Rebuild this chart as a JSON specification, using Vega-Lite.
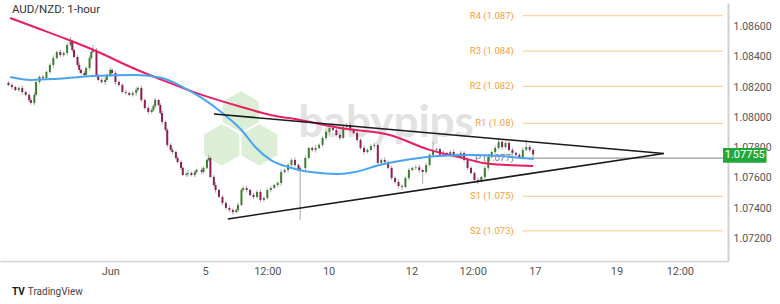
{
"$schema":"https://vega.github.io/schema/vega-lite/v6.json",
"width":728,"height":258,"autosize":{"type":"none"},
"padding":{"left":0,"top":3,"right":52,"bottom":43},
"background":"white",
"config":{"view":{"stroke":null},"font":"Roboto","axis":{"title":null,"grid":false,"ticks":false,"labelColor":"#555555","labelFontSize":11,"labelFlush":false,"labelOverlap":false}},
"resolve":{"axis":{"x":"independent","y":"independent"}},
"datasets":{
"candles":[
{"t":2,"o":1.08230,"h":1.08240,"l":1.08205,"c":1.08215},
{"t":4,"o":1.08215,"h":1.08230,"l":1.08186,"c":1.08201},
{"t":6,"o":1.08201,"h":1.08209,"l":1.08174,"c":1.08182},
{"t":8,"o":1.08182,"h":1.08207,"l":1.08170,"c":1.08195},
{"t":10,"o":1.08195,"h":1.08213,"l":1.08150,"c":1.08168},
{"t":12,"o":1.08168,"h":1.08177,"l":1.08140,"c":1.08149},
{"t":14,"o":1.08149,"h":1.08163,"l":1.08101,"c":1.08115},
{"t":15,"o":1.08115,"h":1.08126,"l":1.08085,"c":1.08096},
{"t":17,"o":1.08096,"h":1.08165,"l":1.08080,"c":1.08149},
{"t":18,"o":1.08149,"h":1.08244,"l":1.08139,"c":1.08234},
{"t":20,"o":1.08234,"h":1.08278,"l":1.08224,"c":1.08268},
{"t":22,"o":1.08268,"h":1.08283,"l":1.08246,"c":1.08261},
{"t":24,"o":1.08261,"h":1.08309,"l":1.08253,"c":1.08301},
{"t":26,"o":1.08301,"h":1.08359,"l":1.08289,"c":1.08347},
{"t":28,"o":1.08347,"h":1.08411,"l":1.08329,"c":1.08393},
{"t":30,"o":1.08393,"h":1.08442,"l":1.08384,"c":1.08433},
{"t":32,"o":1.08433,"h":1.08447,"l":1.08399,"c":1.08413},
{"t":34,"o":1.08413,"h":1.08437,"l":1.08402,"c":1.08426},
{"t":36,"o":1.08426,"h":1.08495,"l":1.08410,"c":1.08479},
{"t":38,"o":1.08479,"h":1.08532,"l":1.08469,"c":1.08499},
{"t":39,"o":1.08499,"h":1.08514,"l":1.08431,"c":1.08446},
{"t":40,"o":1.08446,"h":1.08454,"l":1.08392,"c":1.08400},
{"t":42,"o":1.08400,"h":1.08412,"l":1.08335,"c":1.08347},
{"t":43,"o":1.08347,"h":1.08365,"l":1.08296,"c":1.08314},
{"t":44,"o":1.08314,"h":1.08323,"l":1.08285,"c":1.08294},
{"t":46,"o":1.08294,"h":1.08308,"l":1.08267,"c":1.08281},
{"t":47,"o":1.08281,"h":1.08338,"l":1.08270,"c":1.08327},
{"t":49,"o":1.08327,"h":1.08409,"l":1.08311,"c":1.08393},
{"t":50,"o":1.08393,"h":1.08443,"l":1.08383,"c":1.08433},
{"t":51,"o":1.08433,"h":1.08479,"l":1.08423,"c":1.08446},
{"t":53,"o":1.08446,"h":1.08461,"l":1.08266,"c":1.08281},
{"t":54,"o":1.08281,"h":1.08289,"l":1.08240,"c":1.08248},
{"t":56,"o":1.08248,"h":1.08260,"l":1.08222,"c":1.08234},
{"t":58,"o":1.08234,"h":1.08266,"l":1.08216,"c":1.08248},
{"t":59,"o":1.08248,"h":1.08290,"l":1.08239,"c":1.08281},
{"t":61,"o":1.08281,"h":1.08328,"l":1.08267,"c":1.08314},
{"t":62,"o":1.08314,"h":1.08325,"l":1.08283,"c":1.08294},
{"t":64,"o":1.08294,"h":1.08310,"l":1.08218,"c":1.08234},
{"t":66,"o":1.08234,"h":1.08244,"l":1.08205,"c":1.08215},
{"t":68,"o":1.08215,"h":1.08225,"l":1.08158,"c":1.08168},
{"t":70,"o":1.08168,"h":1.08183,"l":1.08147,"c":1.08162},
{"t":72,"o":1.08162,"h":1.08170,"l":1.08141,"c":1.08149},
{"t":74,"o":1.08149,"h":1.08174,"l":1.08137,"c":1.08162},
{"t":76,"o":1.08162,"h":1.08200,"l":1.08144,"c":1.08182},
{"t":77,"o":1.08182,"h":1.08204,"l":1.08173,"c":1.08195},
{"t":79,"o":1.08195,"h":1.08209,"l":1.08101,"c":1.08115},
{"t":81,"o":1.08115,"h":1.08126,"l":1.08051,"c":1.08062},
{"t":83,"o":1.08062,"h":1.08078,"l":1.08020,"c":1.08036},
{"t":85,"o":1.08036,"h":1.08059,"l":1.08026,"c":1.08049},
{"t":86,"o":1.08049,"h":1.08086,"l":1.08039,"c":1.08076},
{"t":87,"o":1.08076,"h":1.08130,"l":1.08061,"c":1.08115},
{"t":89,"o":1.08115,"h":1.08123,"l":1.08074,"c":1.08082},
{"t":90,"o":1.08082,"h":1.08094,"l":1.08017,"c":1.08029},
{"t":91,"o":1.08029,"h":1.08047,"l":1.07952,"c":1.07970},
{"t":93,"o":1.07970,"h":1.07979,"l":1.07908,"c":1.07917},
{"t":94,"o":1.07917,"h":1.07931,"l":1.07804,"c":1.07818},
{"t":96,"o":1.07818,"h":1.07829,"l":1.07774,"c":1.07785},
{"t":97,"o":1.07785,"h":1.07801,"l":1.07755,"c":1.07771},
{"t":99,"o":1.07771,"h":1.07781,"l":1.07722,"c":1.07732},
{"t":100,"o":1.07732,"h":1.07742,"l":1.07695,"c":1.07705},
{"t":102,"o":1.07705,"h":1.07720,"l":1.07651,"c":1.07666},
{"t":103,"o":1.07666,"h":1.07674,"l":1.07611,"c":1.07619},
{"t":105,"o":1.07619,"h":1.07638,"l":1.07607,"c":1.07626},
{"t":106,"o":1.07626,"h":1.07650,"l":1.07608,"c":1.07632},
{"t":108,"o":1.07632,"h":1.07641,"l":1.07610,"c":1.07619},
{"t":110,"o":1.07619,"h":1.07653,"l":1.07605,"c":1.07639},
{"t":111,"o":1.07639,"h":1.07663,"l":1.07628,"c":1.07652},
{"t":114,"o":1.07652,"h":1.07668,"l":1.07623,"c":1.07639},
{"t":115,"o":1.07639,"h":1.07676,"l":1.07629,"c":1.07666},
{"t":117,"o":1.07666,"h":1.07728,"l":1.07656,"c":1.07718},
{"t":118,"o":1.07718,"h":1.07752,"l":1.07708,"c":1.07732},
{"t":119,"o":1.07732,"h":1.07740,"l":1.07598,"c":1.07606},
{"t":121,"o":1.07606,"h":1.07618,"l":1.07541,"c":1.07553},
{"t":122,"o":1.07553,"h":1.07571,"l":1.07502,"c":1.07520},
{"t":124,"o":1.07520,"h":1.07529,"l":1.07465,"c":1.07474},
{"t":126,"o":1.07474,"h":1.07488,"l":1.07420,"c":1.07434},
{"t":128,"o":1.07434,"h":1.07445,"l":1.07390,"c":1.07401},
{"t":130,"o":1.07401,"h":1.07417,"l":1.07372,"c":1.07388},
{"t":132,"o":1.07388,"h":1.07398,"l":1.07355,"c":1.07374},
{"t":134,"o":1.07374,"h":1.07398,"l":1.07364,"c":1.07388},
{"t":135,"o":1.07388,"h":1.07436,"l":1.07373,"c":1.07421},
{"t":137,"o":1.07421,"h":1.07528,"l":1.07413,"c":1.07520},
{"t":138,"o":1.07520,"h":1.07545,"l":1.07508,"c":1.07533},
{"t":140,"o":1.07533,"h":1.07551,"l":1.07502,"c":1.07520},
{"t":142,"o":1.07520,"h":1.07529,"l":1.07478,"c":1.07487},
{"t":144,"o":1.07487,"h":1.07501,"l":1.07460,"c":1.07474},
{"t":146,"o":1.07474,"h":1.07518,"l":1.07463,"c":1.07507},
{"t":148,"o":1.07507,"h":1.07523,"l":1.07438,"c":1.07454},
{"t":150,"o":1.07454,"h":1.07477,"l":1.07444,"c":1.07467},
{"t":152,"o":1.07467,"h":1.07530,"l":1.07457,"c":1.07520},
{"t":154,"o":1.07520,"h":1.07548,"l":1.07505,"c":1.07533},
{"t":156,"o":1.07533,"h":1.07561,"l":1.07525,"c":1.07553},
{"t":158,"o":1.07553,"h":1.07578,"l":1.07541,"c":1.07566},
{"t":160,"o":1.07566,"h":1.07657,"l":1.07548,"c":1.07639},
{"t":162,"o":1.07639,"h":1.07661,"l":1.07630,"c":1.07652},
{"t":164,"o":1.07652,"h":1.07699,"l":1.07638,"c":1.07685},
{"t":166,"o":1.07685,"h":1.07729,"l":1.07674,"c":1.07718},
{"t":168,"o":1.07718,"h":1.07734,"l":1.07669,"c":1.07685},
{"t":170,"o":1.07685,"h":1.07695,"l":1.07642,"c":1.07652},
{"t":171,"o":1.07652,"h":1.07676,"l":1.07321,"c":1.07666},
{"t":174,"o":1.07666,"h":1.07747,"l":1.07651,"c":1.07732},
{"t":176,"o":1.07732,"h":1.07806,"l":1.07724,"c":1.07798},
{"t":178,"o":1.07798,"h":1.07810,"l":1.07773,"c":1.07785},
{"t":180,"o":1.07785,"h":1.07816,"l":1.07767,"c":1.07798},
{"t":182,"o":1.07798,"h":1.07827,"l":1.07789,"c":1.07818},
{"t":184,"o":1.07818,"h":1.07878,"l":1.07804,"c":1.07864},
{"t":186,"o":1.07864,"h":1.07915,"l":1.07853,"c":1.07904},
{"t":188,"o":1.07904,"h":1.07946,"l":1.07888,"c":1.07930},
{"t":190,"o":1.07930,"h":1.07963,"l":1.07907,"c":1.07917},
{"t":192,"o":1.07917,"h":1.07927,"l":1.07874,"c":1.07884},
{"t":194,"o":1.07884,"h":1.07899,"l":1.07849,"c":1.07864},
{"t":196,"o":1.07864,"h":1.07945,"l":1.07856,"c":1.07937},
{"t":198,"o":1.07937,"h":1.07962,"l":1.07925,"c":1.07950},
{"t":200,"o":1.07950,"h":1.07968,"l":1.07899,"c":1.07917},
{"t":202,"o":1.07917,"h":1.07926,"l":1.07888,"c":1.07897},
{"t":204,"o":1.07897,"h":1.07911,"l":1.07837,"c":1.07851},
{"t":206,"o":1.07851,"h":1.07862,"l":1.07787,"c":1.07798},
{"t":208,"o":1.07798,"h":1.07814,"l":1.07755,"c":1.07771},
{"t":210,"o":1.07771,"h":1.07795,"l":1.07761,"c":1.07785},
{"t":212,"o":1.07785,"h":1.07821,"l":1.07775,"c":1.07811},
{"t":214,"o":1.07811,"h":1.07833,"l":1.07796,"c":1.07818},
{"t":216,"o":1.07818,"h":1.07826,"l":1.07691,"c":1.07699},
{"t":218,"o":1.07699,"h":1.07730,"l":1.07687,"c":1.07718},
{"t":220,"o":1.07718,"h":1.07736,"l":1.07687,"c":1.07705},
{"t":222,"o":1.07705,"h":1.07714,"l":1.07657,"c":1.07666},
{"t":224,"o":1.07666,"h":1.07680,"l":1.07585,"c":1.07599},
{"t":226,"o":1.07599,"h":1.07610,"l":1.07562,"c":1.07573},
{"t":228,"o":1.07573,"h":1.07589,"l":1.07530,"c":1.07546},
{"t":230,"o":1.07546,"h":1.07556,"l":1.07520,"c":1.07540},
{"t":232,"o":1.07540,"h":1.07609,"l":1.07530,"c":1.07599},
{"t":234,"o":1.07599,"h":1.07667,"l":1.07584,"c":1.07652},
{"t":236,"o":1.07652,"h":1.07674,"l":1.07644,"c":1.07666},
{"t":238,"o":1.07666,"h":1.07682,"l":1.07654,"c":1.07670},
{"t":240,"o":1.07670,"h":1.07688,"l":1.07634,"c":1.07652},
{"t":242,"o":1.07652,"h":1.07661,"l":1.07560,"c":1.07639},
{"t":244,"o":1.07639,"h":1.07699,"l":1.07625,"c":1.07685},
{"t":246,"o":1.07685,"h":1.07763,"l":1.07674,"c":1.07752},
{"t":248,"o":1.07752,"h":1.07838,"l":1.07736,"c":1.07785},
{"t":250,"o":1.07785,"h":1.07800,"l":1.07775,"c":1.07790},
{"t":252,"o":1.07790,"h":1.07800,"l":1.07742,"c":1.07752},
{"t":254,"o":1.07752,"h":1.07780,"l":1.07737,"c":1.07765},
{"t":256,"o":1.07765,"h":1.07773,"l":1.07744,"c":1.07752},
{"t":258,"o":1.07752,"h":1.07783,"l":1.07740,"c":1.07771},
{"t":260,"o":1.07771,"h":1.07789,"l":1.07734,"c":1.07752},
{"t":262,"o":1.07752,"h":1.07761,"l":1.07729,"c":1.07738},
{"t":264,"o":1.07738,"h":1.07779,"l":1.07724,"c":1.07765},
{"t":266,"o":1.07765,"h":1.07776,"l":1.07707,"c":1.07718},
{"t":268,"o":1.07718,"h":1.07734,"l":1.07650,"c":1.07666},
{"t":270,"o":1.07666,"h":1.07676,"l":1.07622,"c":1.07632},
{"t":272,"o":1.07632,"h":1.07642,"l":1.07576,"c":1.07586},
{"t":274,"o":1.07586,"h":1.07601,"l":1.07560,"c":1.07579},
{"t":276,"o":1.07579,"h":1.07614,"l":1.07571,"c":1.07606},
{"t":278,"o":1.07606,"h":1.07678,"l":1.07594,"c":1.07666},
{"t":280,"o":1.07666,"h":1.07756,"l":1.07648,"c":1.07738},
{"t":282,"o":1.07738,"h":1.07780,"l":1.07729,"c":1.07771},
{"t":284,"o":1.07771,"h":1.07812,"l":1.07757,"c":1.07798},
{"t":286,"o":1.07798,"h":1.07864,"l":1.07787,"c":1.07838},
{"t":288,"o":1.07838,"h":1.07854,"l":1.07788,"c":1.07804},
{"t":290,"o":1.07804,"h":1.07841,"l":1.07794,"c":1.07831},
{"t":292,"o":1.07831,"h":1.07841,"l":1.07775,"c":1.07785},
{"t":294,"o":1.07785,"h":1.07800,"l":1.07750,"c":1.07765},
{"t":296,"o":1.07765,"h":1.07773,"l":1.07744,"c":1.07752},
{"t":298,"o":1.07752,"h":1.07764,"l":1.07726,"c":1.07738},
{"t":300,"o":1.07738,"h":1.07803,"l":1.07720,"c":1.07785},
{"t":302,"o":1.07785,"h":1.07851,"l":1.07776,"c":1.07804},
{"t":304,"o":1.07804,"h":1.07818,"l":1.07771,"c":1.07785},
{"t":306,"o":1.07785,"h":1.07796,"l":1.07718,"c":1.07755}
],
"ma":[
{"m":"ma200","t":3,"v":1.08658},{"m":"ma200","t":17,"v":1.08598},{"m":"ma200","t":37,"v":1.08512},{"m":"ma200","t":54,"v":1.08433},{"m":"ma200","t":74,"v":1.08327},{"m":"ma200","t":91,"v":1.08248},{"m":"ma200","t":114,"v":1.08149},{"m":"ma200","t":137,"v":1.08069},{"m":"ma200","t":154,"v":1.08016},{"m":"ma200","t":171,"v":1.07983},{"m":"ma200","t":194,"v":1.07930},{"m":"ma200","t":223,"v":1.07884},{"m":"ma200","t":246,"v":1.07785},{"m":"ma200","t":263,"v":1.07738},{"m":"ma200","t":277,"v":1.07699},{"m":"ma200","t":291,"v":1.07685},{"m":"ma200","t":306,"v":1.07679},
{"m":"ma100","t":3,"v":1.08268},{"m":"ma100","t":15,"v":1.08248},{"m":"ma100","t":29,"v":1.08254},{"m":"ma100","t":51,"v":1.08274},{"m":"ma100","t":76,"v":1.08281},{"m":"ma100","t":91,"v":1.08261},{"m":"ma100","t":103,"v":1.08201},{"m":"ma100","t":114,"v":1.08129},{"m":"ma100","t":126,"v":1.08029},{"m":"ma100","t":137,"v":1.07917},{"m":"ma100","t":145,"v":1.07804},{"m":"ma100","t":154,"v":1.07718},{"m":"ma100","t":164,"v":1.07672},{"m":"ma100","t":173,"v":1.07646},{"m":"ma100","t":183,"v":1.07632},{"m":"ma100","t":193,"v":1.07626},{"m":"ma100","t":203,"v":1.07639},{"m":"ma100","t":217,"v":1.07685},{"m":"ma100","t":240,"v":1.07732},{"m":"ma100","t":251,"v":1.07745},{"m":"ma100","t":269,"v":1.07752},{"m":"ma100","t":286,"v":1.07745},{"m":"ma100","t":306,"v":1.07725}
],
"tri":[
{"s":"upper","t":121.1,"v":1.08023},{"s":"upper","t":381.7,"v":1.07761},
{"s":"lower","t":129.1,"v":1.07328},{"s":"lower","t":381.7,"v":1.07761}
],
"pivots":[
{"n":"R4","v":1.08673,"lab":"R4 (1.087)"},
{"n":"R3","v":1.08439,"lab":"R3 (1.084)"},
{"n":"R2","v":1.08206,"lab":"R2 (1.082)"},
{"n":"R1","v":1.07961,"lab":"R1 (1.08)"},
{"n":"P","v":1.07731,"lab":"P (1.077)"},
{"n":"S1","v":1.07478,"lab":"S1 (1.075)"},
{"n":"S2","v":1.07249,"lab":"S2 (1.073)"}
],
"logo":[
{"part":"top","t":136.6,"v":1.08036},
{"part":"left","t":125.7,"v":1.07818},
{"part":"right","t":147.4,"v":1.07818}
],
"one":[{"price":1.07755}]
},
"layer":[
{"data":{"name":"candles"},"mark":{"type":"rule","strokeWidth":1,"color":"#a8a8a8","opacity":0},
"encoding":{"x":{"field":"t","type":"quantitative","scale":{"domain":[0,416],"nice":false,"zero":false},
"axis":{"orient":"bottom","values":[61,116,152,187.5,235.5,271,307,354.3,391],
"labelExpr":"datum.value==61?'Jun':datum.value==116?'5':datum.value==152?'12:00':datum.value==187.5?'10':datum.value==235.5?'12':datum.value==271?'12:00':datum.value==307?'17':datum.value==354.3?'19':'12:00'",
"labelPadding":4,"labelOverlap":false,"labelFlush":false,"domainColor":"#d4d4d4","domainWidth":1.5}},
"y":{"field":"l","type":"quantitative","scale":{"domain":[1.0705,1.08757],"nice":false,"zero":false},
"axis":{"orient":"right","zindex":0,"values":[1.072,1.074,1.076,1.078,1.08,1.082,1.084,1.086],"format":".5f",
"labelPadding":5,"labelOverlap":false,"labelFlush":false,"labelBound":false,"labelFontSize":10.5,"domainColor":"#d0d0d0","domainWidth":2}},
"y2":{"field":"h"}}},
{"data":{"name":"logo"},"mark":{"type":"point","filled":true,"shape":"M0,-1L0.866,-0.5L0.866,0.5L0,1L-0.866,0.5L-0.866,-0.5Z","size":1936,"color":"#dcefd6","opacity":1,"stroke":"white","strokeWidth":2},
"encoding":{"x":{"field":"t","type":"quantitative","axis":null},
"y":{"field":"v","type":"quantitative","axis":null}}},
{"data":{"name":"one"},"mark":{"type":"text","text":"babypips","font":"Lato","fontWeight":"bold","fontSize":44,"color":"#e2e2e2","align":"center","baseline":"alphabetic"},
"encoding":{"x":{"datum":220.9,"type":"quantitative","axis":null},
"y":{"datum":1.07871,"type":"quantitative","axis":null}}},
{"data":{"name":"pivots"},"mark":{"type":"rule","strokeWidth":1.3},
"encoding":{"x":{"datum":300,"type":"quantitative","axis":null},
"x2":{"datum":416},
"y":{"field":"v","type":"quantitative","axis":null},
"color":{"condition":{"test":"datum.n=='P'","value":"#9a9a9a"},"value":"#fcd3a2"}}},
{"data":{"name":"pivots"},"mark":{"type":"text","align":"right","baseline":"middle","dx":-9,"fontSize":9.5},
"encoding":{"x":{"datum":300,"type":"quantitative","axis":null},
"y":{"field":"v","type":"quantitative","axis":null},
"text":{"field":"lab"},
"color":{"condition":{"test":"datum.n=='P'","value":"#777777"},"value":"#f5a03e"}}},
{"data":{"name":"candles"},"mark":{"type":"rule","strokeWidth":1,"color":"#a8a8a8"},
"encoding":{"x":{"field":"t","type":"quantitative","axis":null},
"y":{"field":"l","type":"quantitative","axis":null},
"y2":{"field":"h"}}},
{"data":{"name":"candles"},"mark":{"type":"bar","size":2},
"encoding":{"x":{"field":"t","type":"quantitative","axis":null},
"y":{"field":"o","type":"quantitative","axis":null},
"y2":{"field":"c"},
"color":{"condition":{"test":"datum.c>=datum.o","value":"#3c7f2e"},"value":"#8e1f56"}}},
{"data":{"name":"ma"},"mark":{"type":"line","strokeWidth":2,"interpolate":"monotone"},
"encoding":{"x":{"field":"t","type":"quantitative","axis":null},
"y":{"field":"v","type":"quantitative","axis":null},
"color":{"field":"m","type":"nominal","scale":{"domain":["ma200","ma100"],"range":["#e91e63","#4aa3f0"]},"legend":null}}},
{"data":{"name":"tri"},"mark":{"type":"line","strokeWidth":1.6,"color":"#1a1a1a"},
"encoding":{"x":{"field":"t","type":"quantitative","axis":null},
"y":{"field":"v","type":"quantitative","axis":null},
"detail":{"field":"s"}}},
{"data":{"name":"one"},"mark":{"type":"rect","color":"#22a83a"},
"encoding":{"x":{"datum":416,"type":"quantitative","axis":null},
"x2":{"datum":441.2},
"y":{"datum":1.07797,"type":"quantitative","axis":null},
"y2":{"datum":1.07700}}},
{"data":{"name":"one"},"mark":{"type":"text","color":"white","fontSize":11,"align":"center","baseline":"middle","dy":1},
"encoding":{"x":{"datum":428.6,"type":"quantitative","axis":null},
"y":{"field":"price","type":"quantitative","axis":null},
"text":{"field":"price","format":".5f"}}},
{"data":{"name":"one"},"mark":{"type":"text","text":"AUD/NZD: 1-hour","color":"#333333","fontSize":11.5,"align":"left","baseline":"middle"},
"encoding":{"x":{"datum":4,"type":"quantitative","axis":null},
"y":{"datum":1.08711,"type":"quantitative","axis":null}}},
{"data":{"name":"one"},"mark":{"type":"text","text":"TV","color":"#131722","fontSize":10,"fontWeight":"bold","align":"left","baseline":"middle"},
"encoding":{"x":{"datum":4,"type":"quantitative","axis":null},
"y":{"datum":1.06845,"type":"quantitative","axis":null}}},
{"data":{"name":"one"},"mark":{"type":"text","text":"TradingView","color":"#444444","fontSize":10,"align":"left","baseline":"middle"},
"encoding":{"x":{"datum":13.2,"type":"quantitative","axis":null},
"y":{"datum":1.06845,"type":"quantitative","axis":null}}}
]
}
